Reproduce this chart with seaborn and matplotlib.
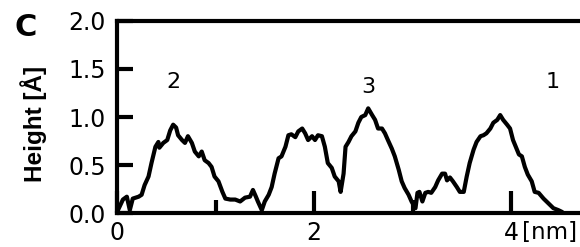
import matplotlib
matplotlib.use("Agg")
import matplotlib.pyplot as plt
import seaborn as sns
import pandas as pd

x_nm = [0.00, 0.01, 0.06, 0.10, 0.13, 0.16, 0.22, 0.25, 0.28, 0.32, 0.35, 0.39, 0.42, 0.43,
        0.47, 0.51, 0.54, 0.57, 0.60, 0.62, 0.66, 0.69, 0.72, 0.76, 0.79, 0.83, 0.86, 0.89,
        0.93, 0.96, 0.99, 1.03, 1.07, 1.10, 1.15, 1.20, 1.25, 1.30, 1.35, 1.38, 1.41, 1.43,
        1.47, 1.50, 1.54, 1.57, 1.60, 1.64, 1.67, 1.71, 1.74, 1.77, 1.81, 1.84, 1.88, 1.91,
        1.94, 1.98, 2.01, 2.04, 2.08, 2.11, 2.14, 2.18, 2.21, 2.25, 2.27, 2.30, 2.32, 2.35,
        2.38, 2.42, 2.45, 2.48, 2.52, 2.55, 2.59, 2.62, 2.65, 2.69, 2.72, 2.75, 2.79, 2.82,
        2.86, 2.89, 2.92, 2.96, 2.99, 3.03, 3.05, 3.07, 3.10, 3.13, 3.16, 3.19, 3.23, 3.26,
        3.30, 3.33, 3.35, 3.38, 3.41, 3.45, 3.48, 3.52, 3.55, 3.58, 3.62, 3.65, 3.69, 3.72,
        3.75, 3.79, 3.82, 3.86, 3.89, 3.92, 3.96, 3.99, 4.02, 4.06, 4.08, 4.11, 4.14, 4.17,
        4.21, 4.24, 4.28, 4.33, 4.38, 4.43, 4.48, 4.52]
height = [0.02, 0.03, 0.14, 0.17, 0.03, 0.15, 0.17, 0.19, 0.29, 0.38, 0.52, 0.69, 0.74, 0.68,
          0.73, 0.76, 0.86, 0.92, 0.89, 0.81, 0.76, 0.73, 0.80, 0.73, 0.64, 0.59, 0.64, 0.55,
          0.52, 0.48, 0.38, 0.33, 0.22, 0.15, 0.14, 0.14, 0.12, 0.16, 0.17, 0.24, 0.17, 0.12,
          0.03, 0.12, 0.19, 0.27, 0.41, 0.57, 0.59, 0.69, 0.81, 0.82, 0.79, 0.85, 0.88, 0.83,
          0.76, 0.80, 0.76, 0.81, 0.80, 0.69, 0.52, 0.47, 0.38, 0.33, 0.22, 0.41, 0.69, 0.74,
          0.80, 0.85, 0.94, 1.00, 1.02, 1.09, 1.02, 0.97, 0.88, 0.88, 0.83, 0.76, 0.67, 0.59,
          0.45, 0.33, 0.26, 0.19, 0.12, 0.05, 0.21, 0.22, 0.12, 0.21, 0.22, 0.21, 0.27, 0.34,
          0.41, 0.41, 0.34, 0.37, 0.33, 0.27, 0.22, 0.22, 0.38, 0.52, 0.66, 0.74, 0.80, 0.81,
          0.83, 0.88, 0.94, 0.97, 1.02, 0.97, 0.92, 0.88, 0.76, 0.66, 0.61, 0.59, 0.48, 0.40,
          0.33, 0.22, 0.21, 0.15, 0.10, 0.05, 0.03, 0.01]

peak_labels = ["2", "3", "1"]
peak_x = [0.574, 2.553, 4.42]
peak_y = [1.30, 1.25, 1.30]

y_ticks = [0.0, 0.5, 1.0, 1.5, 2.0]
y_ticklabels = ["0.0", "0.5", "1.0", "1.5", "2.0"]
x_major = [0, 2, 4]
x_major_labels = ["0", "2", "4"]
x_minor = [1, 3]

sns.set_style("ticks")
plt.rcParams["font.family"] = ["DejaVu Sans"]
for k in ["text.color", "axes.labelcolor", "xtick.color", "ytick.color", "axes.edgecolor"]:
    plt.rcParams[k] = "black"

df = pd.DataFrame({"x": x_nm, "h": height})

fig = plt.figure(figsize=(5.8, 2.47), dpi=100)
ax = fig.add_axes([117 / 580, 34 / 247, 1 - 117 / 580, 192 / 247])

sns.lineplot(data=df, x="x", y="h", ax=ax, color="black", linewidth=3.0,
             estimator=None, sort=False)

ax.set_xlim(0, 4.70)
ax.set_ylim(0, 2.0)

for s in ["left", "bottom", "top"]:
    ax.spines[s].set_linewidth(3.0)
    ax.spines[s].set_color("black")
ax.spines["right"].set_visible(False)

ax.set_yticks(y_ticks)
ax.set_yticklabels(y_ticklabels)
ax.set_xticks(x_major)
ax.set_xticklabels(x_major_labels)
ax.set_xticks(x_minor, minor=True)

ax.tick_params(axis="y", direction="in", length=11.5, width=3.0, pad=8,
               labelsize=17, colors="black")
ax.tick_params(axis="x", which="major", direction="in", length=16, width=3.0, pad=6,
               labelsize=17, colors="black")
ax.tick_params(axis="x", which="minor", direction="in", length=9.5, width=3.0)

ax.set_xlabel("")
ax.set_ylabel("")

ax.annotate("[nm]", xy=(4.11, 0), xycoords=("data", "axes fraction"),
            xytext=(0, -6), textcoords="offset points", ha="left", va="top",
            fontsize=16.5)

for lab, px, py in zip(peak_labels, peak_x, peak_y):
    ax.text(px, py, lab, ha="center", va="baseline", fontsize=16)

fig.text(34 / 580, 1 - 124 / 247, "Height [Å]", rotation=90, ha="center", va="center",
         fontsize=17.5, fontweight="bold", family="Liberation Sans")
fig.text(26 / 580, 1 - 28 / 247, "C", ha="center", va="center",
         fontsize=22, fontweight="bold")

fig.savefig("out.png", dpi=100)
